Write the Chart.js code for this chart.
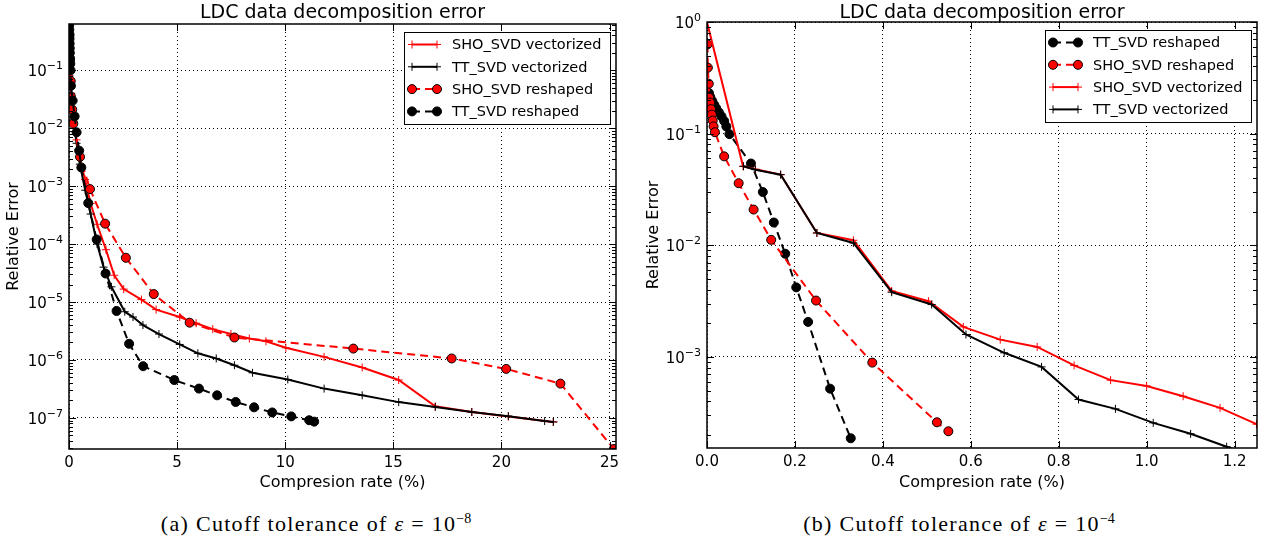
<!DOCTYPE html>
<html>
<head>
<meta charset="utf-8">
<script src="https://cdn.jsdelivr.net/npm/chart.js@4.4.1/dist/chart.umd.min.js"></script>
<style>
  body { margin: 0; background: #fff; width: 1271px; height: 544px; overflow: hidden; position: relative; }
  .box { position: absolute; top: 0; height: 500px; }
  .cap { position: absolute; top: 511px; width: 640px; text-align: center;
         font-family: "Liberation Serif", serif; font-size: 22px; letter-spacing: 1.3px; color: #000; }
  .cap sup { font-size: 14px; letter-spacing: 0; }
</style>
</head>
<body>
<div class="box" style="left:0;width:632px"><canvas id="chart-a" width="632" height="500"></canvas></div>
<div class="box" style="left:640px;width:631px"><canvas id="chart-b" width="631" height="500"></canvas></div>
<div class="cap" style="left:-4px">(a) Cutoff tolerance of <i>ε</i> = 10<sup>−8</sup></div>
<div class="cap" style="left:639px">(b) Cutoff tolerance of <i>ε</i> = 10<sup>−4</sup></div>

<script>
var FONT = '"DejaVu Sans", sans-serif';
var chartTitle = 'LDC data decomposition error';
var xLabel = 'Compresion rate (%)';
var yLabel = 'Relative Error';

// (a) cutoff 1e-8
var xTicksA = [0, 5, 10, 15, 20, 25];
var yDecadesA = [-7, -6, -5, -4, -3, -2, -1];
var labelsA = ['SHO_SVD vectorized', 'TT_SVD vectorized', 'SHO_SVD reshaped', 'TT_SVD reshaped'];

var shoVecXA = [0.02, 0.1, 0.2, 0.35, 0.5, 0.74, 1.0, 1.3, 1.71, 2.09, 2.53, 3.35, 4.03, 5.12, 5.88, 6.65, 7.49, 8.34, 9.11, 10.03, 11.80, 13.56, 15.25, 16.94, 18.63, 20.32, 22.40];
var shoVecYA = [0.08, 0.04, 0.015, 0.0063, 0.003, 1.3e-3, 5e-4, 2.2e-4, 8e-5, 2.9e-5, 1.67e-5, 1.1e-5, 7.4e-6, 5.5e-6, 4.3e-6, 3.4e-6, 2.8e-6, 2.34e-6, 2.1e-6, 1.62e-6, 1.13e-6, 7.4e-7, 4.5e-7, 1.58e-7, 1.26e-7, 1.06e-7, 8.5e-8];

var ttVecXA = [0.02, 0.1, 0.2, 0.35, 0.5, 0.75, 1.0, 1.3, 1.6, 1.96, 2.58, 2.96, 3.42, 4.16, 5.12, 5.96, 6.81, 7.65, 8.49, 10.12, 11.80, 13.56, 15.25, 16.94, 18.63, 20.32, 22.0, 22.4];
var ttVecYA = [0.08, 0.04, 0.014, 0.0055, 0.0024, 8.5e-4, 3.3e-4, 1.0e-4, 4.0e-5, 1.83e-5, 6.8e-6, 5.5e-6, 4.0e-6, 2.8e-6, 1.85e-6, 1.3e-6, 1.06e-6, 8.1e-7, 6.0e-7, 4.6e-7, 3.2e-7, 2.45e-7, 1.87e-7, 1.54e-7, 1.26e-7, 1.07e-7, 8.8e-8, 8.5e-8];

var shoReshXA = [0.02, 0.04, 0.08, 0.09, 0.15, 0.2, 0.51, 0.97, 1.67, 2.63, 3.92, 5.58, 7.65, 13.15, 17.70, 20.22, 22.73, 25.2];
var shoReshYA = [0.4, 0.15, 0.065, 0.035, 0.021, 0.012, 0.0032, 8.9e-4, 2.25e-4, 5.8e-5, 1.37e-5, 4.4e-6, 2.44e-6, 1.57e-6, 1.06e-6, 7.0e-7, 3.9e-7, 2.9e-8];

var ttReshXA = [0.01, 0.015, 0.02, 0.025, 0.03, 0.035, 0.04, 0.05, 0.06, 0.07, 0.09, 0.17, 0.26, 0.35, 0.47, 0.57, 0.89, 1.28, 1.69, 2.20, 2.78, 3.43, 4.87, 6.01, 6.85, 7.71, 8.56, 9.40, 10.28, 11.11, 11.34];
var ttReshYA = [0.6, 0.5, 0.42, 0.35, 0.29, 0.24, 0.2, 0.16, 0.13, 0.1, 0.054, 0.030, 0.016, 0.0085, 0.0041, 0.0021, 5.1e-4, 1.2e-4, 3.1e-5, 7.0e-6, 1.9e-6, 7.8e-7, 4.5e-7, 3.2e-7, 2.45e-7, 1.88e-7, 1.52e-7, 1.24e-7, 1.06e-7, 9.1e-8, 8.6e-8];

// (b) cutoff 1e-4
var xTicksB = [0, 0.2, 0.4, 0.6, 0.8, 1.0, 1.2];
var yDecadesB = [-3, -2, -1, 0];
var labelsB = ['TT_SVD reshaped', 'SHO_SVD reshaped', 'SHO_SVD vectorized', 'TT_SVD vectorized'];

var ttReshXB = [0.0045, 0.0075, 0.012, 0.0166, 0.021, 0.027, 0.033, 0.039, 0.044, 0.051, 0.10, 0.127, 0.152, 0.178, 0.203, 0.230, 0.280, 0.327];
var ttReshYB = [0.231, 0.213, 0.196, 0.181, 0.169, 0.155, 0.143, 0.130, 0.116, 0.099, 0.054, 0.030, 0.016, 0.0084, 0.0042, 0.00206, 5.2e-4, 1.87e-4];

var shoReshXB = [0.001, 0.002, 0.004, 0.005, 0.007, 0.009, 0.011, 0.013, 0.015, 0.018, 0.039, 0.072, 0.106, 0.146, 0.248, 0.376, 0.523, 0.549];
var shoReshYB = [0.63, 0.39, 0.28, 0.21, 0.19, 0.166, 0.148, 0.131, 0.116, 0.103, 0.0626, 0.036, 0.0209, 0.0112, 0.0032, 8.9e-4, 2.6e-4, 2.16e-4];

var shoVecXB = [0.0, 0.082, 0.11, 0.1675, 0.25, 0.333, 0.42, 0.504, 0.583, 0.667, 0.751, 0.835, 0.918, 1.0, 1.083, 1.167, 1.25];
var shoVecYB = [1.0, 0.051, 0.048, 0.043, 0.0129, 0.0111, 0.0039, 0.00316, 0.00186, 0.00143, 0.00123, 8.4e-4, 6.2e-4, 5.5e-4, 4.45e-4, 3.5e-4, 2.5e-4];

var ttVecXB = [0.083, 0.11, 0.1675, 0.25, 0.333, 0.42, 0.511, 0.589, 0.676, 0.761, 0.845, 0.929, 1.015, 1.10, 1.182, 1.27];
var ttVecYB = [0.051, 0.0476, 0.0429, 0.0129, 0.0105, 0.0038, 0.00295, 0.00159, 0.00109, 8.15e-4, 4.16e-4, 3.43e-4, 2.57e-4, 2.05e-4, 1.57e-4, 1.2e-4];


function isDecade(v) {
  var l = Math.log10(v);
  return Math.abs(l - Math.round(l)) < 1e-9;
}

function series(label, xs, ys, color, dashed, style) {
  return {
    label: label,
    data: xs.map(function(x, i) { return { x: x, y: ys[i] }; }),
    borderColor: color,
    borderWidth: 2,
    borderDash: dashed ? [8, 5] : [],
    pointStyle: style,
    pointRadius: style === 'circle' ? 4.5 : 4,
    pointHoverRadius: 4.5,
    pointBackgroundColor: color,
    pointBorderColor: style === 'circle' ? '#000' : color,
    pointBorderWidth: 1,
    tension: 0,
    fill: false
  };
}

function drawLegend(chart) {
  var ctx = chart.ctx, a = chart.chartArea;
  var w = 206, h = 92;
  var x0 = a.right - 6 - w, y0 = a.top + 8;
  ctx.save();
  ctx.fillStyle = '#fff';
  ctx.fillRect(x0, y0, w, h);
  ctx.lineWidth = 1;
  ctx.strokeStyle = '#000';
  ctx.strokeRect(x0 + 0.5, y0 + 0.5, w, h);
  chart.data.datasets.forEach(function(ds, i) {
    var y = y0 + 12.5 + i * 22.3;
    var xa = x0 + 8, xb = x0 + 33;
    ctx.strokeStyle = ds.borderColor;
    ctx.lineWidth = ds.borderWidth;
    ctx.setLineDash(ds.borderDash);
    ctx.beginPath();
    ctx.moveTo(xa, y);
    ctx.lineTo(xb, y);
    ctx.stroke();
    ctx.setLineDash([]);
    [xa, xb].forEach(function(px) {
      ctx.fillStyle = ds.pointBackgroundColor;
      ctx.strokeStyle = ds.pointBorderColor;
      ctx.lineWidth = ds.pointBorderWidth;
      Chart.helpers.drawPoint(ctx, { pointStyle: ds.pointStyle, radius: ds.pointRadius, rotation: 0, borderWidth: 1 }, px, y);
    });
    ctx.fillStyle = '#000';
    ctx.font = '14.5px ' + FONT;
    ctx.textAlign = 'left';
    ctx.textBaseline = 'middle';
    ctx.fillText(ds.label, x0 + 48, y + 1);
  });
  ctx.restore();
}

// "10" with a raised exponent, like matplotlib's log labels
function drawLogLabels(chart) {
  var ctx = chart.ctx, a = chart.chartArea, ys = chart.scales.y;
  ctx.save();
  ctx.fillStyle = '#000';
  ctx.textBaseline = 'alphabetic';
  ctx.textAlign = 'left';
  ys.ticks.forEach(function(t) {
    if (!isDecade(t.value)) return;
    var exp = String(Math.round(Math.log10(t.value))).replace('-', '\u2212');
    var py = ys.getPixelForValue(t.value);
    ctx.font = '11px ' + FONT;
    var we = ctx.measureText(exp).width;
    ctx.font = '15px ' + FONT;
    var wb = ctx.measureText('10').width;
    var xr = a.left - 6;
    ctx.fillText('10', xr - we - wb, py + 6);
    ctx.font = '11px ' + FONT;
    ctx.fillText(exp, xr - we, py - 1);
  });
  ctx.restore();
}

var framePlugin = {
  id: 'frame',
  afterDatasetsDraw: function(chart) {
    var ctx = chart.ctx, a = chart.chartArea;
    var xs = chart.scales.x, ys = chart.scales.y;
    ctx.save();
    ctx.strokeStyle = '#000';
    ctx.lineWidth = 1;
    ctx.setLineDash([]);
    ctx.beginPath();
    xs.ticks.forEach(function(t) {
      var px = Math.round(xs.getPixelForValue(t.value)) + 0.5;
      ctx.moveTo(px, a.bottom); ctx.lineTo(px, a.bottom - 7);
      ctx.moveTo(px, a.top); ctx.lineTo(px, a.top + 7);
    });
    ys.ticks.forEach(function(t) {
      var len = isDecade(t.value) ? 7 : 4;
      var py = Math.round(ys.getPixelForValue(t.value)) + 0.5;
      ctx.moveTo(a.left, py); ctx.lineTo(a.left + len, py);
      ctx.moveTo(a.right, py); ctx.lineTo(a.right - len, py);
    });
    ctx.stroke();
    ctx.lineWidth = 1.5;
    ctx.strokeRect(a.left, a.top, a.right - a.left, a.bottom - a.top);
    ctx.restore();
    drawLegend(chart);
  },
  afterDraw: function(chart) {
    var ctx = chart.ctx, a = chart.chartArea;
    drawLogLabels(chart);
    ctx.save();
    ctx.fillStyle = '#000';
    ctx.font = '19px ' + FONT;
    ctx.textAlign = 'center';
    ctx.textBaseline = 'alphabetic';
    ctx.fillText(chartTitle, (a.left + a.right) / 2, 18);
    ctx.restore();
  }
};

function makeChart(id, datasets, opts) {
  // matplotlib draws later lines on top
  datasets.forEach(function(ds, i) { ds.order = datasets.length - i; });

  return new Chart(document.getElementById(id), {
    type: 'line',
    data: { datasets: datasets },
    plugins: [framePlugin],
    options: {
      responsive: false,
      animation: false,
      layout: { padding: { top: opts.top, right: opts.right, left: 0, bottom: 0 } },
      plugins: { legend: { display: false }, tooltip: { enabled: false } },
      scales: {
        x: {
          type: 'linear',
          min: 0,
          max: opts.xMax,
          afterBuildTicks: function(s) {
            s.ticks = opts.xTicks.map(function(v) { return { value: v }; });
          },
          afterFit: function(s) { s.height = opts.xAxisH; },
          grid: { color: '#000', lineWidth: 1, drawTicks: false },
          border: { display: false, dash: [1, 3] },
          ticks: {
            color: '#000', font: { family: FONT, size: 15 }, padding: 5,
            autoSkip: false, maxRotation: 0,
            callback: opts.xFmt
          },
          title: { display: true, text: xLabel, color: '#000', font: { family: FONT, size: 16 },
                   padding: { top: 2, bottom: 8 } }
        },
        y: {
          type: 'logarithmic',
          min: opts.yMin,
          max: opts.yMax,
          afterBuildTicks: function(s) {
            var ticks = [];
            var lo = opts.yDecades[0] - 1, hi = opts.yDecades[opts.yDecades.length - 1];
            for (var e = lo; e <= hi; e++) {
              for (var m = 1; m <= 9; m++) {
                var v = m * Math.pow(10, e);
                if (v >= opts.yMin && v <= opts.yMax * 1.000001) ticks.push({ value: v });
              }
            }
            s.ticks = ticks;
          },
          afterFit: function(s) { s.width = opts.yAxisW; },
          grid: {
            color: function(c) { return c.tick && isDecade(c.tick.value) ? '#000' : 'rgba(0,0,0,0)'; },
            lineWidth: 1, drawTicks: false
          },
          border: { display: false, dash: [1, 3] },
          ticks: { display: false, autoSkip: false },
          title: { display: true, text: yLabel, color: '#000', font: { family: FONT, size: 16 },
                   padding: { top: 4, bottom: 4 } }
        }
      }
    }
  });
}

makeChart('chart-a', [
  series(labelsA[0], shoVecXA, shoVecYA, '#ff0000', false, 'cross'),
  series(labelsA[1], ttVecXA, ttVecYA, '#000000', false, 'cross'),
  series(labelsA[2], shoReshXA, shoReshYA, '#ff0000', true, 'circle'),
  series(labelsA[3], ttReshXA, ttReshYA, '#000000', true, 'circle')
], {
  top: 24, right: 16, xMax: 25.3, yMin: 2.9e-8, yMax: 0.63, xAxisH: 51, yAxisW: 69,
  xTicks: xTicksA, yDecades: yDecadesA,
  xFmt: function(v) { return String(v); }
});

makeChart('chart-b', [
  series(labelsB[0], ttReshXB, ttReshYB, '#000000', true, 'circle'),
  series(labelsB[1], shoReshXB, shoReshYB, '#ff0000', true, 'circle'),
  series(labelsB[2], shoVecXB, shoVecYB, '#ff0000', false, 'cross'),
  series(labelsB[3], ttVecXB, ttVecYB, '#000000', false, 'cross')
], {
  top: 22, right: 14, xMax: 1.251, yMin: 1.53e-4, yMax: 1, xAxisH: 52, yAxisW: 67,
  xTicks: xTicksB, yDecades: yDecadesB,
  xFmt: function(v) { return v.toFixed(1); }
});
</script>
</body>
</html>
